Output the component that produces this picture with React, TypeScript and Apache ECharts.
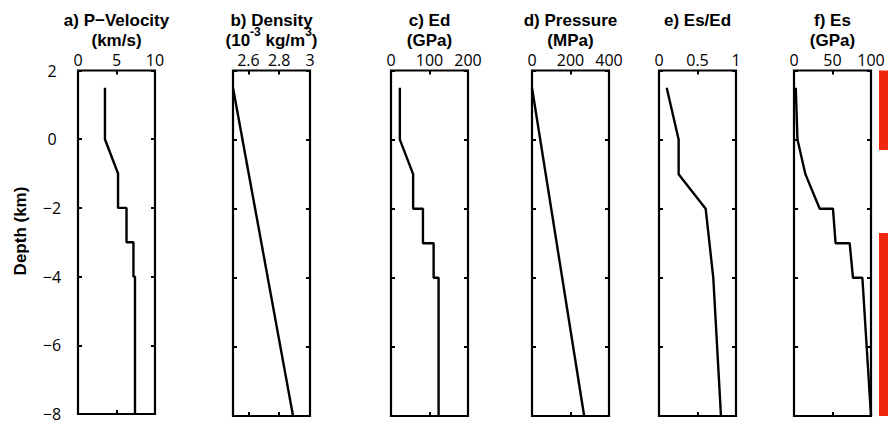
import React, { useEffect, useRef } from "react";
import * as echarts from "echarts";

// ---- data (depth in km, positive up) ----
const vpDepth = [1.5, 0, -1, -2, -2, -3, -3, -4, -4, -8];
const vpValues = [3.5, 3.5, 5.2, 5.2, 6.3, 6.3, 7.2, 7.2, 7.4, 7.4];

const densityDepth = [1.5, -8];
const densityValues = [2.5, 2.89];

const edDepth = [1.5, 0, -1, -2, -2, -3, -3, -4, -4, -8];
const edValues = [23, 23, 57.5, 57.5, 83, 83, 110.7, 110.7, 123.6, 123.6];

const pressureDepth = [1.5, -8];
const pressureValues = [0, 271];

const ratioDepth = [1.5, 0, -1, -2, -4, -8];
const ratioValues = [0.1, 0.255, 0.255, 0.606, 0.705, 0.805];

const esDepth = [1.5, 0, -1, -2, -2, -3, -3, -4, -4, -8];
const esValues = [2.3, 4.5, 14.8, 33.4, 50.6, 54, 72.3, 76.6, 88.8, 100];

const titleLine1 = ["a) P\u2212Velocity", "b) Density", "c) Ed", "d) Pressure", "e) Es/Ed", "f) Es"];
const titleLine2 = ["(km/s)", "DENSITY_UNITS", "(GPa)", "(MPa)", "", "(GPa)"];

const xMins = [0, 2.5, 0, 0, 0, 0];
const xMaxs = [10, 3, 200, 400, 1, 100];
const xIntervals = [5, 0, 100, 200, 0.5, 50];
const densityTickValues = [2.6, 2.8, 3];

const depthMin = -8;
const depthMax = 2;
const depthStep = 2;
const depthLabel = "Depth (km)";

const redBarRanges = [
  [2, -0.3],
  [-2.7, -8],
];

const panelDepths = [vpDepth, densityDepth, edDepth, pressureDepth, ratioDepth, esDepth];
const panelValues = [vpValues, densityValues, edValues, pressureValues, ratioValues, esValues];

// ---- layout ----
const panelLefts = [78, 233, 391, 532, 659, 794];
const panelWidth = 77;
const gridTop = 70.5;
const gridHeight = 345.5;
const labelFont = "'Open Sans', sans-serif";
const titleFont = "'Liberation Sans', Arial, sans-serif";
const titleSize = 17;

function buildOption() {
  const grid: any[] = [];
  const xAxis: any[] = [];
  const yAxis: any[] = [];
  const series: any[] = [];
  const graphic: any[] = [];

  const tickStyle = { inside: true, length: 4, lineStyle: { color: "#000", width: 2 } };

  panelLefts.forEach((left, i) => {
    grid.push({
      left,
      top: gridTop,
      width: panelWidth,
      height: gridHeight,
      show: true,
      borderColor: "#000",
      borderWidth: 2.2,
      backgroundColor: "transparent",
    });
    const isDensity = i === 1;
    const baseX: any = {
      gridIndex: i,
      type: "value",
      min: xMins[i],
      max: xMaxs[i],
      axisLine: { show: false, onZero: false },
      splitLine: { show: false },
    };
    if (!isDensity) baseX.interval = xIntervals[i];
    xAxis.push({
      ...baseX,
      position: "top",
      axisTick: isDensity ? { ...tickStyle, customValues: densityTickValues } : tickStyle,
      axisLabel: {
        show: true,
        margin: 3,
        color: "#000",
        fontSize: 16,
        fontFamily: labelFont,
        ...(isDensity ? { customValues: densityTickValues } : {}),
      },
    });
    xAxis.push({
      ...baseX,
      position: "bottom",
      axisTick: isDensity ? { ...tickStyle, customValues: densityTickValues } : tickStyle,
      axisLabel: { show: false },
    });
    const baseY: any = {
      gridIndex: i,
      type: "value",
      min: depthMin,
      max: depthMax,
      interval: depthStep,
      axisLine: { show: false, onZero: false },
      splitLine: { show: false },
      axisTick: tickStyle,
    };
    yAxis.push({
      ...baseY,
      position: "left",
      axisLabel: {
        show: i === 0,
        margin: 26,
        align: "center",
        color: "#000",
        fontSize: 16,
        lineHeight: 12,
        fontFamily: labelFont,
        formatter: (v: number) => String(v).replace("-", "\u2212"),
      },
    });
    yAxis.push({ ...baseY, position: "right", axisLabel: { show: false } });

    series.push({
      type: "line",
      xAxisIndex: 2 * i,
      yAxisIndex: 2 * i,
      data: panelValues[i].map((v, k) => [v, panelDepths[i][k]]),
      symbol: "none",
      clip: false,
      lineStyle: { color: "#000", width: 2.4 },
    });

    const cx = left + panelWidth / 2;
    graphic.push({
      type: "text",
      x: cx,
      y: 20.5,
      style: {
        text: titleLine1[i],
        fill: "#000",
        font: `bold ${titleSize}px ${titleFont}`,
        align: "center",
        verticalAlign: "middle",
      },
    });
    if (titleLine2[i] === "DENSITY_UNITS") {
      graphic.push({
        type: "text",
        x: cx,
        y: 37,
        style: {
          text: "{n|(10}{s|-3}{n| kg/m}{s|3}{n|)}",
          fill: "#000",
          align: "center",
          verticalAlign: "middle",
          rich: {
            n: {
              fontSize: titleSize,
              fontWeight: "bold",
              fontFamily: titleFont,
              lineHeight: 23,
              verticalAlign: "bottom",
              fill: "#000",
            },
            s: {
              fontSize: 12,
              fontWeight: "bold",
              fontFamily: titleFont,
              lineHeight: 12,
              verticalAlign: "top",
              fill: "#000",
            },
          },
        },
      });
    } else if (titleLine2[i]) {
      graphic.push({
        type: "text",
        x: cx,
        y: 40.5,
        style: {
          text: titleLine2[i],
          fill: "#000",
          font: `bold ${titleSize}px ${titleFont}`,
          align: "center",
          verticalAlign: "middle",
        },
      });
    }
  });

  // red bars on the far right
  grid.push({ left: 880, top: gridTop, width: 16, height: gridHeight, show: false });
  xAxis.push({ gridIndex: 6, type: "value", min: 0, max: 1, show: false });
  yAxis.push({ gridIndex: 6, type: "value", min: depthMin, max: depthMax, show: false });
  redBarRanges.forEach((r) => {
    series.push({
      type: "line",
      xAxisIndex: 12,
      yAxisIndex: 12,
      data: [
        [0.5, r[0]],
        [0.5, r[1]],
      ],
      symbol: "none",
      clip: false,
      lineStyle: { color: "#f0260f", width: 10, cap: "butt" },
    });
  });

  graphic.push({
    type: "text",
    x: 20,
    y: 231,
    rotation: Math.PI / 2,
    style: {
      text: depthLabel,
      fill: "#000",
      font: `bold ${titleSize}px ${titleFont}`,
      align: "center",
      verticalAlign: "middle",
    },
  });

  return {
    animation: false,
    backgroundColor: "#fff",
    grid,
    xAxis,
    yAxis,
    series,
    graphic,
  };
}

export default function App() {
  const ref = useRef<HTMLDivElement>(null);
  useEffect(() => {
    if (!ref.current) return;
    const chart = echarts.init(ref.current, undefined, { renderer: "svg" });
    chart.setOption(buildOption());
    return () => chart.dispose();
  }, []);
  return (
    <div
      ref={ref}
      style={{ position: "fixed", left: 0, top: 0, width: 888, height: 422 }}
    />
  );
}
